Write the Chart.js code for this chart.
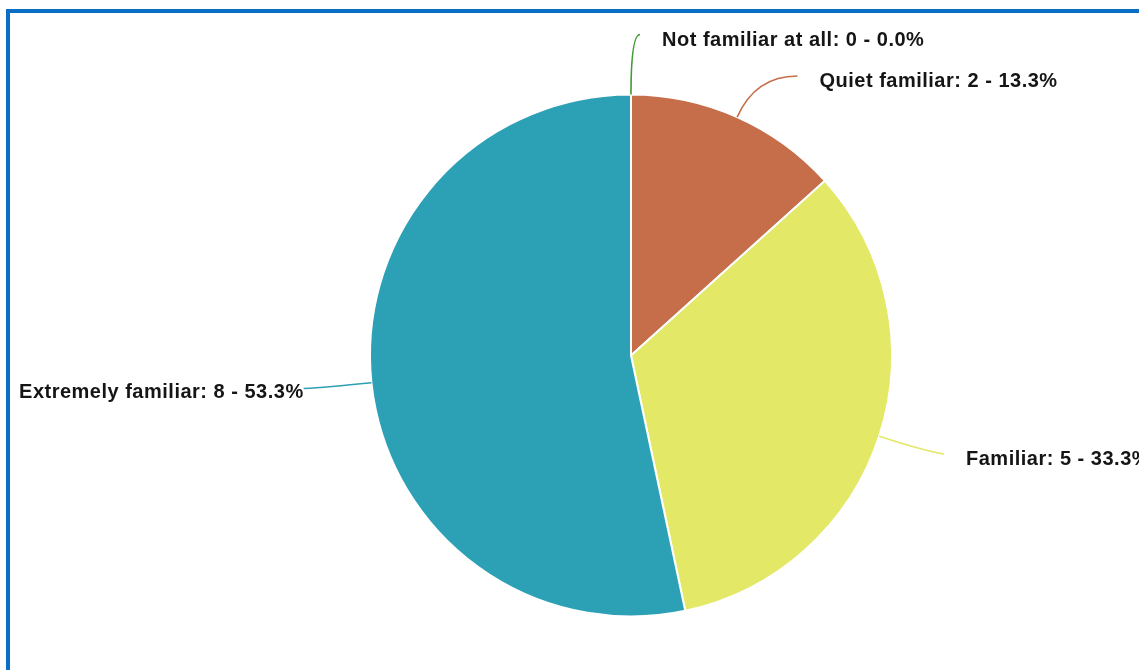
<!DOCTYPE html>
<html>
<head>
<meta charset="utf-8">
<script src="https://cdn.jsdelivr.net/npm/chart.js@4.4.1/dist/chart.umd.min.js"></script>
<style>
  html, body { margin: 0; padding: 0; background: #fff; overflow: hidden; }
  #frame {
    position: absolute; left: 6px; top: 9px; width: 1300px; height: 800px;
    border-left: 4px solid #0a6fc4; border-top: 4px solid #0a6fc4;
  }
  #wrap { position: absolute; left: 0; top: 0; width: 1139px; height: 670px; }
</style>
</head>
<body>
<div id="frame"></div>
<div id="wrap"><canvas id="chart"></canvas></div>
<script>
// Survey answers, in drawing order (clockwise from 12 o'clock)
const categories = ["Not familiar at all", "Quiet familiar", "Familiar", "Extremely familiar"]
const counts = [0, 2, 5, 8]
const percents = ["0.0%", "13.3%", "33.3%", "53.3%"]
const sliceColors = ["#3f9c34", "#c66d4a", "#e3e867", "#2ca0b4"]

// Leader-line layout per slice: how far the elbow sits past the rim,
// horizontal run of the line, text gap, side and small nudges.
const LABEL_LAYOUT = [
  { ext: 60, run: 9,  gap: 22, side: 1,  endDy: 0, textDy: 11 },
  { ext: 45, run: 42, gap: 22, side: 1,  endDy: 0, textDy: 11.5 },
  { ext: 45, run: 22, gap: 22, side: 1,  endDy: 4, textDy: 10.5 },
  { ext: 45, run: 23, gap: 0,  side: -1, endDy: 1, textDy: 10 },
]

const outLabels = {
  id: "outLabels",
  afterDatasetsDraw(chart) {
    const { ctx } = chart
    const meta = chart.getDatasetMeta(0)
    ctx.save()
    ctx.font = 'bold 20px "Liberation Sans", Arial, sans-serif'
    ctx.letterSpacing = "0.5px"
    ctx.fillStyle = "#151515"
    ctx.textBaseline = "alphabetic"
    meta.data.forEach((arc, i) => {
      const L = LABEL_LAYOUT[i]
      const mid = (arc.startAngle + arc.endAngle) / 2
      const dx = Math.cos(mid), dy = Math.sin(mid)
      const r = arc.outerRadius
      const sx = arc.x + dx * r, sy = arc.y + dy * r
      const ex = arc.x + dx * (r + L.ext), ey = arc.y + dy * (r + L.ext)
      const tx = ex + L.side * L.run, ty = ey + L.endDy
      ctx.strokeStyle = sliceColors[i]
      ctx.lineWidth = 1.6
      ctx.beginPath()
      ctx.moveTo(sx, sy)
      ctx.quadraticCurveTo(ex, ey, tx, ty)
      ctx.stroke()
      const text = `${categories[i]}: ${counts[i]} - ${percents[i]}`
      ctx.textAlign = L.side > 0 ? "left" : "right"
      ctx.fillText(text, tx + L.side * L.gap, ty + L.textDy)
    })
    ctx.restore()
  },
}

new Chart(document.getElementById("chart"), {
  type: "pie",
  data: {
    labels: categories,
    datasets: [{
      data: counts,
      backgroundColor: sliceColors,
      borderColor: "#ffffff",
      borderWidth: 2,
      hoverOffset: 0,
    }],
  },
  options: {
    responsive: true,
    maintainAspectRatio: false,
    animation: false,
    events: [],
    layout: { padding: { left: 369, right: 246, top: 93, bottom: 52 } },
    plugins: { legend: { display: false }, tooltip: { enabled: false } },
  },
  plugins: [outLabels],
})
</script>
</body>
</html>
